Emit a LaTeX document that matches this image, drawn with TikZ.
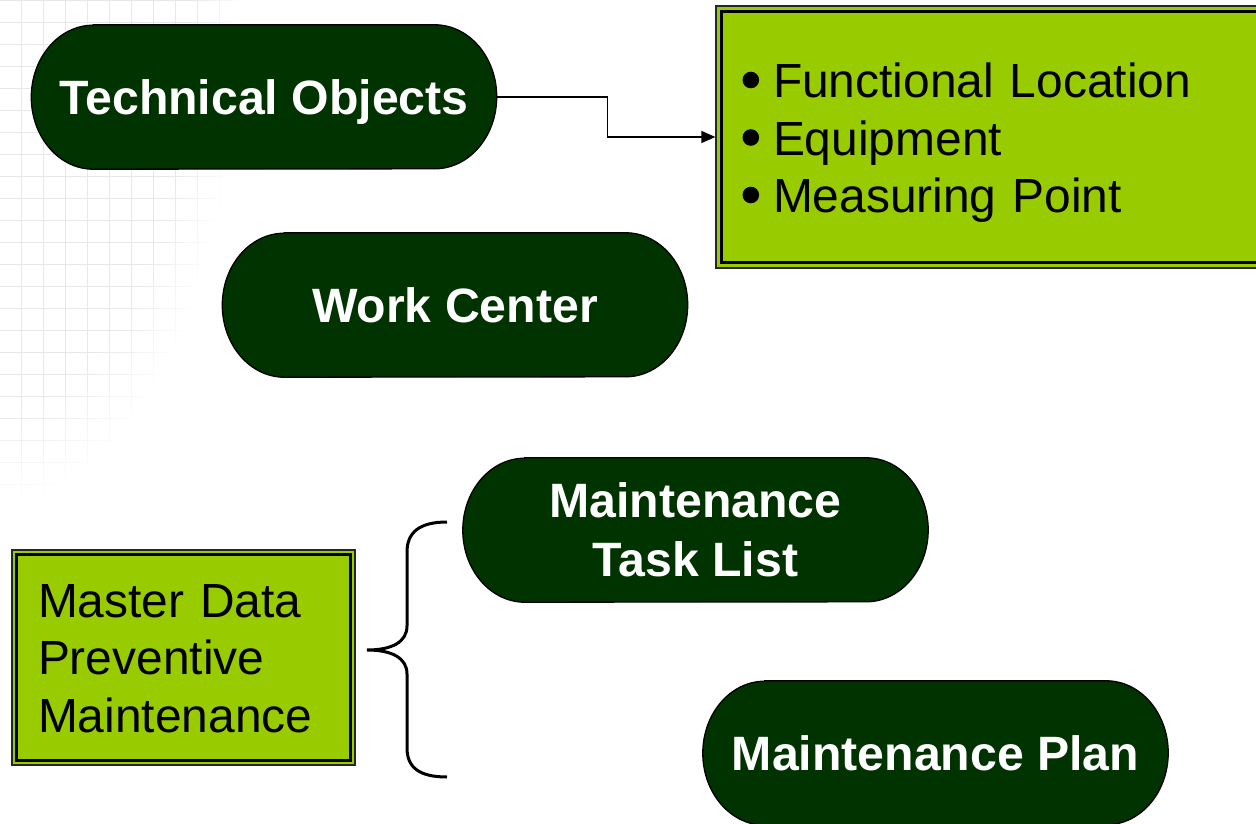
\documentclass[tikz,border=0pt]{standalone}
\usepackage{fontspec}
\setmainfont{Liberation Sans}
\usetikzlibrary{arrows.meta,backgrounds,calc,fadings}
\definecolor{dkgreen}{HTML}{003300}
\definecolor{limegr}{HTML}{99CC00}
\newcommand{\bigbul}{\makebox[34pt][l]{\hspace{3.5pt}\tikz[baseline=0pt,x=1pt,y=1pt]\fill[black] (8.5,18) circle[radius=8.3pt];}}
\newcommand{\pillpath}[1]{%
  \draw[pillshape] ($(#1.north west)+(62,0)$) -- ($(#1.north east)+(-62,0)$)
    arc[start angle=90,end angle=-90,x radius=62pt,y radius=72pt]
    -- ($(#1.south west)+(62,0)$)
    arc[start angle=270,end angle=90,x radius=62pt,y radius=72pt] -- cycle;}
\begin{document}
\begin{tikzpicture}[x=1pt,y=-1pt,
  pill/.style={draw=none, minimum width=465pt, minimum height=144pt, inner sep=0pt,
    text=white, font=\bfseries\fontsize{48.2}{59}\selectfont, align=center},
  oneline/.style={text height=34.5pt, text depth=0pt},
  pillshape/.style={fill=dkgreen, draw=black, line width=1.3pt},
  greenbox/.style={fill=limegr, draw=black!85, line width=1.2pt, inner sep=0pt,
    font=\fontsize{47.9}{57.5}\selectfont, align=left},
  innerframe/.style={draw=black, line width=2.6pt},
  conn/.style={draw=black, line width=1.4pt, -{Triangle[length=14pt,width=12pt]}},
  bracestyle/.style={draw=black, line width=3pt}
]
\useasboundingbox (0,0) rectangle (1256,824);

% nodes
\node[pill, oneline] (tech) at (264,97) {Technical Objects};
\node[pill, oneline] (work) at (455,305) {Work Center};
\node[pill] (task) at (695.5,530) {Maintenance\\Task List};
\node[pill, oneline] (plan) at (935.5,753) {Maintenance Plan};

\node[greenbox, minimum width=560pt, minimum height=262pt, text width=514pt,
  text height=34.3pt, text depth=112.3pt]
  (list) at (996,137) {\bigbul Functional Location\\\bigbul Equipment\\\bigbul Measuring Point};
\draw[innerframe] ($(list.north west)+(6,6)$) rectangle ($(list.south east)+(-6,-6)$);

\node[greenbox, minimum width=343pt, minimum height=215pt, text width=291pt,
  text height=34.3pt, text depth=115pt]
  (master) at (183.5,657.5) {Master Data\\Preventive\\Maintenance};
\draw[innerframe] ($(master.north west)+(5,5)$) rectangle ($(master.south east)+(-5,-5)$);

% background: faint grid and pill shapes
\begin{scope}[on background layer]
  \draw[black!9, line width=1pt, step=22pt,
    path fading=circle with fuzzy edge 20 percent] (-242,-506) grid (242,506);
  \pillpath{tech}
  \pillpath{work}
  \pillpath{task}
  \pillpath{plan}
\end{scope}

% connector
\draw[conn] (tech.east) -- ++(111,0) |- (list.west);

% brace
\coordinate (btop) at (447,522);
\coordinate (btip) at (367,650);
\coordinate (bbot) at (447,777);
\draw[bracestyle] (btop) .. controls (420,522) and (407,532) .. (407,552)
  -- (407,626) .. controls (407,642) and (392,650) .. (btip)
  .. controls (392,650) and (407,658) .. (407,674)
  -- (407,748) .. controls (407,768) and (420,777) .. (bbot);
\end{tikzpicture}
\end{document}
